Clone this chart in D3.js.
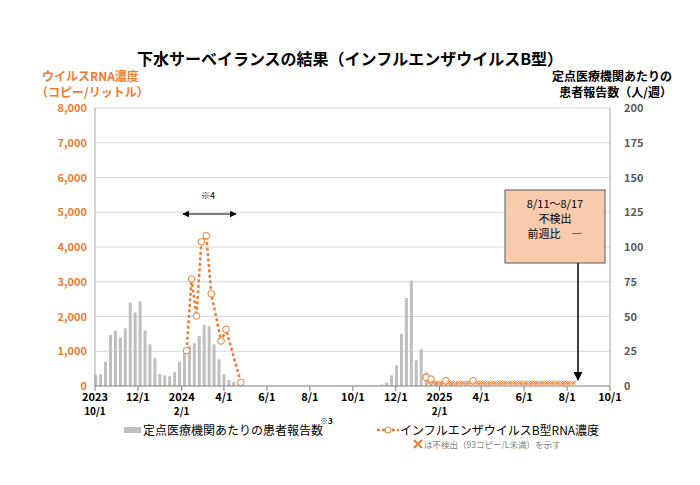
<!DOCTYPE html>
<html><head><meta charset="utf-8">
<script src="https://cdn.jsdelivr.net/npm/d3@7"></script>
<style>body{margin:0;background:#fff}text{font-family:"Noto Sans CJK JP","Noto Sans",sans-serif}</style>
</head><body><svg id="c" width="700" height="485"></svg>
<script>
// weekly patient reports starting 2023-10-02
const barStart = "2023-10-02";
const barValues = [8,8.6,17.5,36.7,39.6,35,41.5,60,53,61,40,30,20,8.6,7.7,7,10,17.5,26,29,30.7,36,44,43,30,19.2,8.6,4.3,2.9,1,
 0.3,0.2,0,0,0,0,0,0,0,0,0,0,0,0,0,0,0,0,0.2,0.2,0.2,0.3,0.3,0.3,0.4,0.4,0.5,0.6,1,2.4,7.7,14.9,37.6,63.3,76,18.5,26.4,9.8,7,3,2,1.5,
 1,1,0.8,0.6,0.5,0.5,0.4,0.4,0.3,0.3,0.3,0.2,0.2,0.2,0.2,0.2,0.2,0.2,0.2,0.2,0.2,0.2,0.2,0.2];
// RNA concentration 2024 season
const rnaDates = ["2024-02-08","2024-02-15","2024-02-22","2024-02-29","2024-03-07","2024-03-14","2024-03-28","2024-04-04","2024-04-25"];
const rnaValues = [1016,3080,2014,4150,4327,2653,1295,1631,105];
// 2025 samples (twice weekly); null = not detected (<93 copies/L)
const rna25Start = "2025-01-13";
const rna25Values = [250,null,200,null,null,null,null,null,150,null,null,null,null,null,null,null,null,null,null,150,null,null,null,null,
 null,null,null,null,null,null,null,null,null,null,null,null,null,null,null,null,null,null,null,null,null,null,null,null,
 null,null,null,null,null,null,null,null,null,null,null,null,null];
const leftTicks = [0,1000,2000,3000,4000,5000,6000,7000,8000];
const rightTicks = [0,25,50,75,100,125,150,175,200];
const xTickLabels = [["2023","10/1"],["12/1"],["2024","2/1"],["4/1"],["6/1"],["8/1"],["10/1"],["12/1"],["2025","2/1"],["4/1"],["6/1"],["8/1"],["10/1"]];

const svg = d3.select("#c");
const L=95,R=610,T=108,B=386;
const x = d3.scaleTime().domain([new Date(2023,9,1),new Date(2025,9,1)]).range([L,R]);
const yL = d3.scaleLinear().domain([0,8000]).range([B,T]);
const yR = d3.scaleLinear().domain([0,200]).range([B,T]);
const orange="#ed7d31";

svg.append("g").selectAll("line").data(leftTicks.slice(1)).join("line")
 .attr("x1",L).attr("x2",R).attr("y1",d=>yL(d)).attr("y2",d=>yL(d)).attr("stroke","#d9d9d9");
svg.append("g").selectAll("text").data(leftTicks).join("text").attr("x",L-8).attr("y",d=>yL(d)+4)
 .attr("text-anchor","end").attr("fill",orange).attr("font-size",11).attr("font-weight","bold").text(d=>d3.format(",")(d));
svg.append("g").selectAll("text").data(rightTicks).join("text").attr("x",R+14).attr("y",d=>yR(d)+4)
 .attr("text-anchor","start").attr("fill","#595959").attr("font-size",11).attr("font-weight","bold").text(d=>d);

// bars
const bs = new Date(barStart);
const bd = barValues.map((v,i)=>({d:d3.timeDay.offset(bs,7*i),v}));
svg.append("g").selectAll("rect").data(bd).join("rect")
 .attr("x",d=>x(d.d)-1.5).attr("width",3).attr("y",d=>yR(d.v)).attr("height",d=>B-yR(d.v)).attr("fill","#bfbfbf");

// axes lines
svg.append("line").attr("x1",L).attr("x2",L).attr("y1",T).attr("y2",B).attr("stroke","#a6a6a6");
svg.append("line").attr("x1",R).attr("x2",R).attr("y1",T).attr("y2",B).attr("stroke","#a6a6a6");
svg.append("line").attr("x1",L).attr("x2",R).attr("y1",B).attr("y2",B).attr("stroke","#808080");
const xt = d3.timeMonth.range(new Date(2023,9,1),new Date(2025,9,2)).filter((d,i)=>i%2==0);
xt.forEach((d,i)=>{
 svg.append("line").attr("x1",x(d)).attr("x2",x(d)).attr("y1",B).attr("y2",B+5).attr("stroke","#808080");
 const lab=xTickLabels[i];
 lab.forEach((s,j)=>svg.append("text").attr("x",x(d)).attr("y",B+15+j*14).attr("text-anchor","middle")
  .attr("font-size",lab.length==2&&j==1?10:11).attr("font-weight","bold").text(s));
});

// RNA line
const rd = rnaDates.map((s,i)=>({d:new Date(s),v:rnaValues[i]}));
svg.append("path").datum(rd).attr("d",d3.line().x(d=>x(d.d)).y(d=>yL(d.v)))
 .attr("fill","none").attr("stroke",orange).attr("stroke-width",2.5).attr("stroke-dasharray","3,2.5");
svg.append("g").selectAll("circle").data(rd).join("circle").attr("cx",d=>x(d.d)).attr("cy",d=>yL(d.v)).attr("r",3.3)
 .attr("fill","#fff").attr("stroke",orange).attr("stroke-width",1);
// 2025
const s25=new Date(rna25Start);
const r25 = rna25Values.map((v,i)=>({d:d3.timeHour.offset(s25,i*84),v}));
const g25=svg.append("g");
r25.forEach(p=>{
 const cx=x(p.d);
 if(p.v==null){const cy=yL(93);g25.append("path").attr("d",`M${cx-2},${cy-2}L${cx+2},${cy+2}M${cx-2},${cy+2}L${cx+2},${cy-2}`).attr("stroke",orange).attr("stroke-width",1);}
 else g25.append("circle").attr("cx",cx).attr("cy",yL(p.v)).attr("r",3.3).attr("fill","#fff").attr("stroke",orange);
});

// annotations
svg.append("text").attr("x",208).attr("y",199).attr("text-anchor","middle").attr("font-size",9).text("※4");
const ar=svg.append("defs");
ar.append("marker").attr("id","ah").attr("viewBox","0 0 10 10").attr("refX",9).attr("refY",5).attr("markerWidth",6).attr("markerHeight",6).attr("orient","auto-start-reverse")
 .append("path").attr("d","M0,0L10,5L0,10z").attr("fill","#000");
svg.append("line").attr("x1",183).attr("x2",236).attr("y1",214).attr("y2",214).attr("stroke","#000").attr("stroke-width",1.2)
 .attr("marker-start","url(#ah)").attr("marker-end","url(#ah)");
svg.append("rect").attr("x",505).attr("y",190).attr("width",100).attr("height",73).attr("fill","#f8cbad").attr("stroke","#595959");
[["8/11～8/17",208],["不検出",223],["前週比　―",238]].forEach(([t,y])=>svg.append("text").attr("x",555).attr("y",y)
 .attr("text-anchor","middle").attr("font-size",11).text(t));
svg.append("line").attr("x1",578).attr("x2",578).attr("y1",263).attr("y2",380).attr("stroke","#000").attr("stroke-width",1.5).attr("marker-end","url(#ah)");

// titles
svg.append("text").attr("x",350).attr("y",65).attr("text-anchor","middle").attr("font-size",16).attr("font-weight","bold")
 .text("下水サーベイランスの結果（インフルエンザウイルスB型）");
svg.append("text").attr("x",42).attr("y",81).attr("fill",orange).attr("font-size",12).attr("font-weight","bold").text("ウイルスRNA濃度");
svg.append("text").attr("x",36).attr("y",97).attr("fill",orange).attr("font-size",12).attr("font-weight","bold").text("（コピー/リットル）");
svg.append("text").attr("x",672).attr("y",81).attr("text-anchor","end").attr("font-size",12).attr("font-weight","bold").text("定点医療機関あたりの");
svg.append("text").attr("x",672).attr("y",97).attr("text-anchor","end").attr("font-size",12).attr("font-weight","bold").text("患者報告数（人/週）");

// legend
svg.append("rect").attr("x",124).attr("y",427).attr("width",17).attr("height",6).attr("fill","#bfbfbf");
svg.append("text").attr("x",143).attr("y",435).attr("font-size",12).text("定点医療機関あたりの患者報告数");
svg.append("text").attr("x",320).attr("y",424).attr("font-size",8).attr("font-weight","bold").text("※3");
svg.append("line").attr("x1",377).attr("x2",399).attr("y1",430).attr("y2",430).attr("stroke",orange).attr("stroke-width",2.5).attr("stroke-dasharray","3,2");
svg.append("circle").attr("cx",388).attr("cy",430).attr("r",3).attr("fill","#fff").attr("stroke",orange);
svg.append("text").attr("x",400).attr("y",435).attr("font-size",12).text("インフルエンザウイルスB型RNA濃度");
svg.append("path").attr("d","M414,440L422,448M414,448L422,440").attr("stroke",orange).attr("stroke-width",2);
svg.append("text").attr("x",424).attr("y",448).attr("font-size",8.5).attr("fill","#7f7f7f").text("は不検出（93コピー/L未満）を示す");
</script></body></html>
